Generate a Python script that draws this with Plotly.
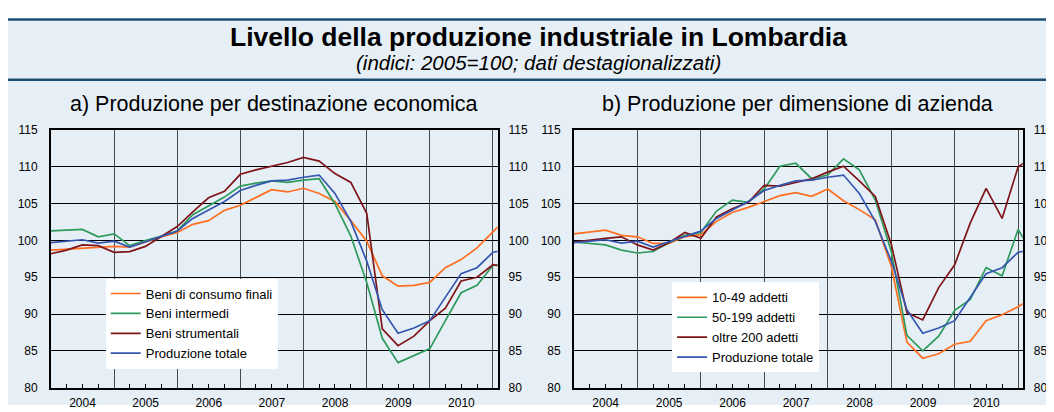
import plotly.graph_objects as go
import pandas as pd

# ---------------- data (quarterly, 2004Q1 .. 2011Q2) ----------------
quarters = pd.date_range("2004-01-01", periods=30, freq="QS")
years = ["2004", "2005", "2006", "2007", "2008", "2009", "2010"]

# a) Produzione per destinazione economica
beni_consumo = [98.7, 98.8, 98.9, 99.1, 99.2, 99.1, 99.8, 100.5, 101.1, 102.2,
                102.7, 104.1, 104.8, 105.9, 106.9, 106.6, 107.1, 106.4, 105.3, 102.7,
                99.9, 95.2, 93.8, 93.9, 94.3, 96.3, 97.4, 99.0, 101.2, 103.3]
beni_intermedi = [101.3, 101.4, 101.5, 100.5, 100.9, 99.3, 100.0, 100.6, 101.3, 103.5,
                  104.7, 105.9, 107.4, 107.8, 108.1, 107.9, 108.2, 108.4, 105.0, 100.6,
                  94.3, 86.7, 83.4, 84.3, 85.3, 89.1, 92.9, 93.9, 96.6, 96.9]
beni_strumentali = [98.2, 98.7, 99.4, 99.3, 98.4, 98.5, 99.2, 100.6, 101.9, 103.9,
                    105.8, 106.7, 109.0, 109.6, 110.1, 110.6, 111.3, 110.8, 109.1, 107.9,
                    103.7, 88.0, 85.7, 87.0, 89.1, 90.8, 94.5, 95.0, 96.7, 96.3]
produzione_totale = [99.7, 99.9, 100.1, 99.65, 99.9, 99.1, 99.8, 100.6, 101.3, 103.0,
                     104.1, 105.3, 106.8, 107.5, 108.1, 108.2, 108.6, 108.9, 106.4, 102.6,
                     97.2, 90.6, 87.4, 88.1, 89.1, 92.2, 95.5, 96.3, 98.4, 98.8]

# b) Produzione per dimensione di azienda
addetti_10_49 = [100.9, 101.1, 101.4, 100.7, 100.5, 99.6, 99.6, 100.5, 100.8, 102.6,
                 103.8, 104.5, 105.3, 106.1, 106.5, 106.0, 107.0, 105.4, 104.2, 102.8,
                 96.5, 86.2, 84.0, 84.6, 85.9, 86.3, 89.1, 89.9, 91.0, 92.3]
addetti_50_199 = [99.8, 99.6, 99.4, 98.7, 98.3, 98.5, 99.7, 100.7, 101.1, 104.0,
                  105.5, 105.2, 107.0, 110.1, 110.5, 108.4, 108.9, 111.1, 109.6, 105.5,
                  98.5, 87.1, 85.0, 87.0, 90.5, 92.0, 96.3, 95.2, 101.5, 98.0]
oltre_200 = [99.8, 100.1, 100.3, 100.5, 99.4, 98.7, 99.7, 101.1, 100.3, 103.2,
             104.3, 105.2, 107.5, 107.4, 107.9, 108.4, 109.3, 110.1, 108.1, 106.0,
             99.5, 90.2, 89.2, 93.6, 96.7, 102.4, 107.1, 103.0, 110.0, 111.5]

# ---------------- styling ----------------
# the page body has an 8px default margin: lay out in screen pixels and offset
OFF = 8
W, H = 1054 - OFF, 412 - OFF
FONT = "Liberation Sans, Arial, sans-serif"
ORANGE = "#FF6F21"
GREEN = "#2E9A5C"
RED = "#7F1518"
BLUE = "#3456B0"
BG = "#E7EFF6"
RULE = "#1D4F72"


def px_x(p):
    return (p - OFF) / W


def px_y(p):
    return (H - (p - OFF)) / H


fig = go.Figure()

left_series = [("Beni di consumo finali", beni_consumo, ORANGE),
               ("Beni intermedi", beni_intermedi, GREEN),
               ("Beni strumentali", beni_strumentali, RED),
               ("Produzione totale", produzione_totale, BLUE)]
right_series = [("10-49 addetti", addetti_10_49, ORANGE),
                ("50-199 addetti", addetti_50_199, GREEN),
                ("oltre 200 adetti", oltre_200, RED),
                ("Produzione totale", produzione_totale, BLUE)]

for name, vals, col in left_series:
    fig.add_trace(go.Scatter(x=quarters, y=vals, mode="lines", name=name,
                             line=dict(color=col, width=1.7), xaxis="x", yaxis="y",
                             legend="legend"))
for name, vals, col in right_series:
    fig.add_trace(go.Scatter(x=quarters, y=vals, mode="lines", name=name,
                             line=dict(color=col, width=1.7), xaxis="x2", yaxis="y2",
                             legend="legend2"))

# dummy traces so the right-hand mirror axes get drawn
fig.add_trace(go.Scatter(x=[None], y=[None], xaxis="x", yaxis="y3", showlegend=False, hoverinfo="skip"))
fig.add_trace(go.Scatter(x=[None], y=[None], xaxis="x2", yaxis="y4", showlegend=False, hoverinfo="skip"))

xr = ["2004-01-01", "2011-01-28"]
common_x = dict(type="date", range=xr, dtick="M12", tick0="2004-01-01",
                ticklabelmode="period", tickformat="%Y",
                showgrid=True, gridcolor="#4a4a4a", gridwidth=1.4,
                showline=True, linecolor="black", linewidth=1.6, mirror=True,
                ticks="", ticklabelstandoff=3,
                tickfont=dict(size=12, color="black", family=FONT),
                minor=dict(dtick="M3", tick0="2004-01-01", ticks="inside", ticklen=4,
                           tickcolor="black", showgrid=False),
                zeroline=False, fixedrange=True)
common_y = dict(range=[80, 115], dtick=5, tick0=80,
                showgrid=True, gridcolor="black", gridwidth=1,
                showline=True, linecolor="black", linewidth=1.5, mirror=True,
                ticks="", ticklabelstandoff=9,
                tickfont=dict(size=12, color="black", family=FONT),
                zeroline=False, fixedrange=True)
mirror_y = dict(range=[80, 115], dtick=5, tick0=80, side="right",
                showgrid=False, showline=False, ticks="", ticklabelstandoff=10,
                tickfont=dict(size=12, color="black", family=FONT),
                zeroline=False, fixedrange=True)

ydom = [px_y(394), px_y(127.3)]
fig.update_layout(
    width=W, height=H,
    margin=dict(l=0, r=0, t=0, b=0),
    paper_bgcolor="white", plot_bgcolor="white",
    font=dict(family=FONT, color="black"),
    xaxis=dict(domain=[px_x(51), px_x(499)], anchor="y", **common_x),
    yaxis=dict(domain=ydom, anchor="x", **common_y),
    yaxis3=dict(overlaying="y", anchor="x", **mirror_y),
    xaxis2=dict(domain=[px_x(575.5), px_x(1025.7)], anchor="y2", **common_x),
    yaxis2=dict(domain=ydom, anchor="x2", **common_y),
    yaxis4=dict(overlaying="y2", anchor="x2", **mirror_y),
    legend=dict(x=px_x(106), y=px_y(281), xanchor="left", yanchor="top",
                bgcolor="white", borderwidth=0, font=dict(size=13, family=FONT),
                itemwidth=30, tracegroupgap=0),
    legend2=dict(x=px_x(674), y=px_y(285), xanchor="left", yanchor="top",
                 bgcolor="white", borderwidth=0, font=dict(size=13, family=FONT),
                 itemwidth=30, tracegroupgap=0),
    showlegend=True,
)

# background panel and rules
fig.add_shape(type="rect", xref="paper", yref="paper", x0=0, x1=1.0,
              y0=0, y1=px_y(12.7), fillcolor=BG, line=dict(width=0), layer="below")
for yy in (12.7, 75):
    fig.add_shape(type="line", xref="paper", yref="paper", x0=0, x1=1.0,
                  y0=px_y(yy), y1=px_y(yy), line=dict(color=RULE, width=2.5), layer="below")

# titles
fig.add_annotation(text="<b>Livello della produzione industriale in Lombardia</b>",
                   xref="paper", yref="paper", x=px_x(540), y=px_y(31),
                   showarrow=False, font=dict(size=26.5, family=FONT, color="black"),
                   xanchor="center", yanchor="middle")
fig.add_annotation(text="<i>(indici: 2005=100; dati destagionalizzati)</i>",
                   xref="paper", yref="paper", x=px_x(540), y=px_y(57),
                   showarrow=False, font=dict(size=20.5, family=FONT, color="black"),
                   xanchor="center", yanchor="middle")
fig.add_annotation(text="a) Produzione per destinazione economica",
                   xref="paper", yref="paper", x=px_x(275), y=px_y(100),
                   showarrow=False, font=dict(size=21.5, family=FONT, color="black"),
                   xanchor="center", yanchor="middle")
fig.add_annotation(text="b) Produzione per dimensione di azienda",
                   xref="paper", yref="paper", x=px_x(800), y=px_y(100),
                   showarrow=False, font=dict(size=21.5, family=FONT, color="black"),
                   xanchor="center", yanchor="middle")

fig.write_html("out.html")
